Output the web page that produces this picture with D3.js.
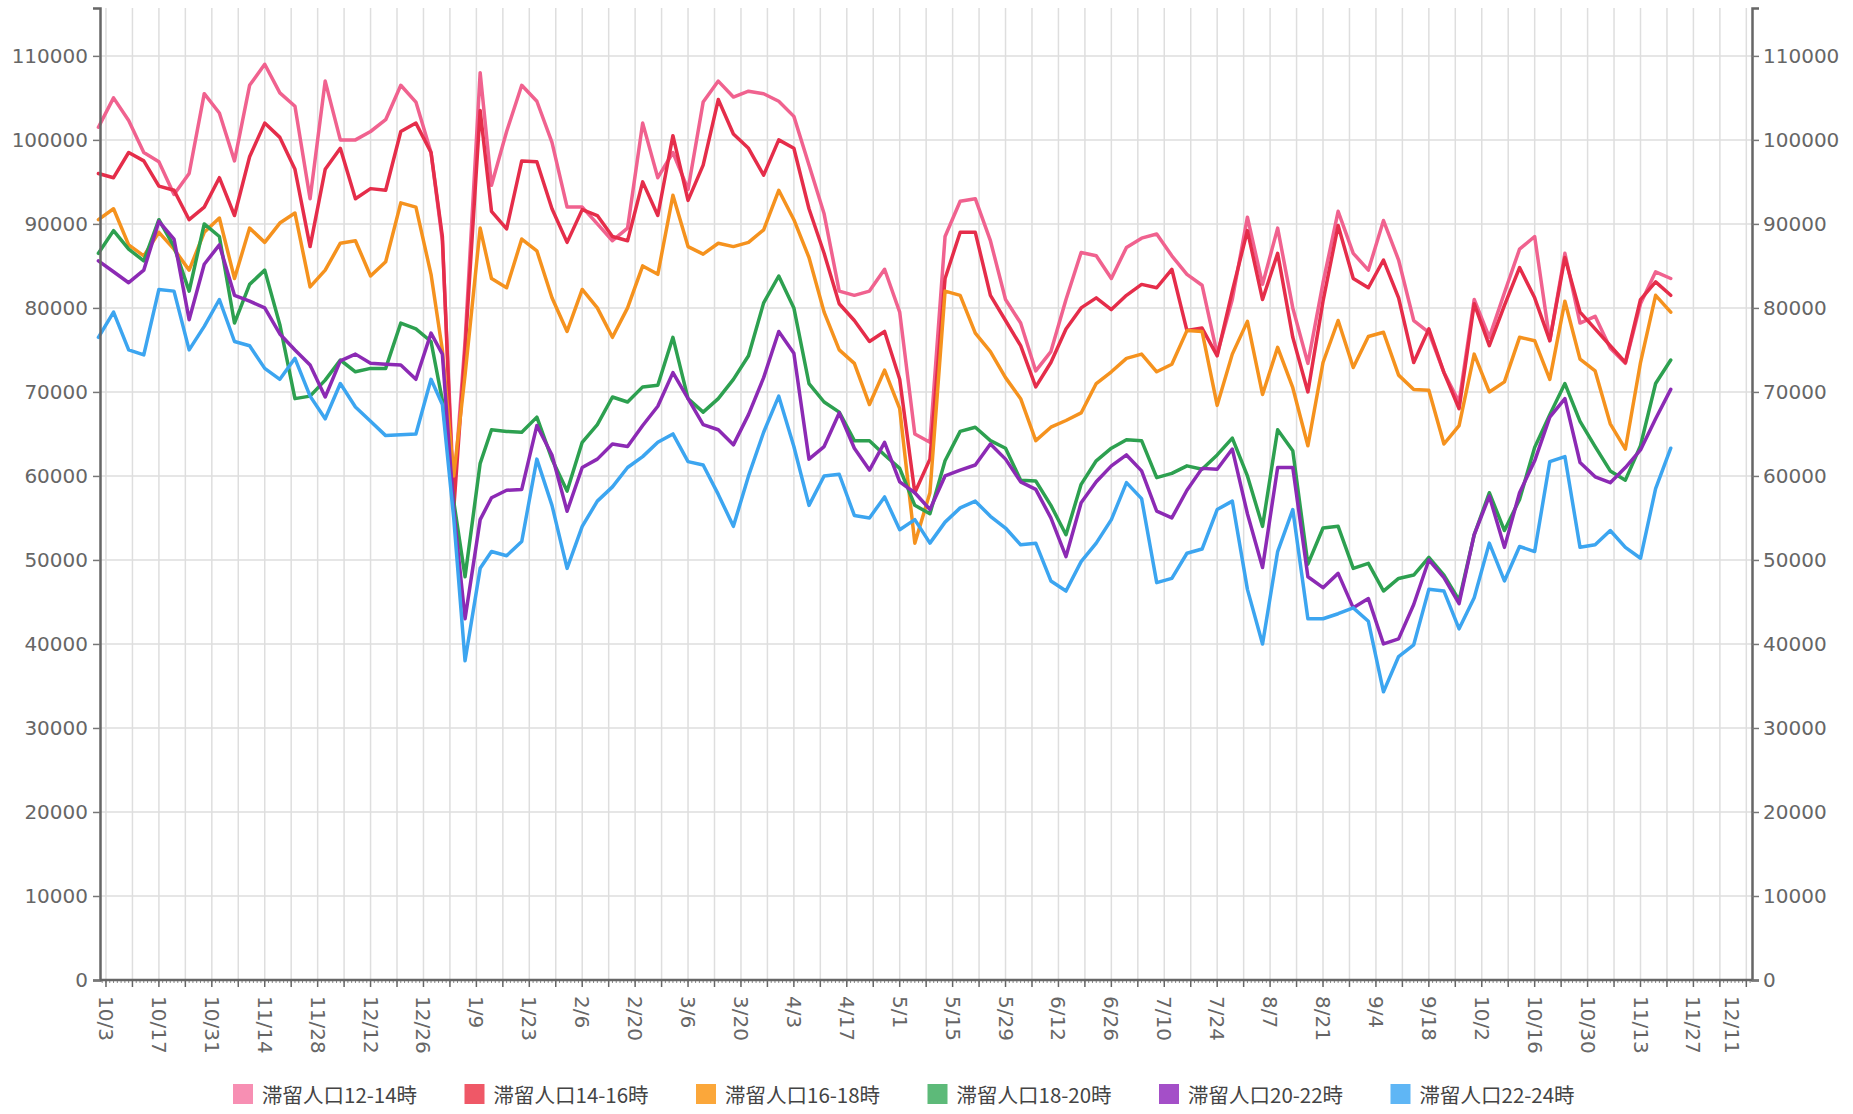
<!DOCTYPE html>
<html>
<head>
<meta charset="utf-8">
<script src="https://cdnjs.cloudflare.com/ajax/libs/d3/7.8.5/d3.min.js"></script>
<style>
  body { margin: 0; background: #fff; }
  svg { display: block; }
</style>
</head>
<body>
<svg></svg>
<script>
// sample dates (roughly every 4 days)
var dates = [
  "2021-10-01","2021-10-05","2021-10-09","2021-10-13","2021-10-17","2021-10-21","2021-10-25","2021-10-29",
  "2021-11-02","2021-11-06","2021-11-10","2021-11-14","2021-11-18","2021-11-22","2021-11-26","2021-11-30",
  "2021-12-04","2021-12-08","2021-12-12","2021-12-16","2021-12-20","2021-12-24","2021-12-28","2021-12-31",
  "2022-01-03","2022-01-06","2022-01-10","2022-01-13","2022-01-17","2022-01-21","2022-01-25","2022-01-29",
  "2022-02-02","2022-02-06","2022-02-10","2022-02-14","2022-02-18","2022-02-22","2022-02-26","2022-03-02",
  "2022-03-06","2022-03-10","2022-03-14","2022-03-18","2022-03-22","2022-03-26","2022-03-30","2022-04-03",
  "2022-04-07","2022-04-11","2022-04-15","2022-04-19","2022-04-23","2022-04-27","2022-05-01","2022-05-05",
  "2022-05-09","2022-05-13","2022-05-17","2022-05-21","2022-05-25","2022-05-29","2022-06-02","2022-06-06",
  "2022-06-10","2022-06-14","2022-06-18","2022-06-22","2022-06-26","2022-06-30","2022-07-04","2022-07-08",
  "2022-07-12","2022-07-16","2022-07-20","2022-07-24","2022-07-28","2022-08-01","2022-08-05","2022-08-09",
  "2022-08-13","2022-08-17","2022-08-21","2022-08-25","2022-08-29","2022-09-02","2022-09-06","2022-09-10",
  "2022-09-14","2022-09-18","2022-09-22","2022-09-26","2022-09-30","2022-10-04","2022-10-08","2022-10-12",
  "2022-10-16","2022-10-20","2022-10-24","2022-10-28","2022-11-01","2022-11-05","2022-11-09","2022-11-13",
  "2022-11-17","2022-11-21"
];

// values in thousands of people
var pop12_14 = [
  101.5,105,102.3,98.5,97.4,93.5,96,105.5,103.2,97.5,106.5,109,105.6,104,93,107,100,100,101,102.4,106.5,104.5,98.5,
  88,58,76,108,94.6,
  101,106.5,104.6,99.7,92,92,90,88,89.5,102,95.5,98.5,94.1,104.5,107,105.1,105.8,105.5,104.6,102.8,
  97,91.2,82,81.5,82,84.6,79.5,65,64,88.5,92.7,93,88,81,78.2,72.5,74.8,81,86.6,86.2,
  83.5,87.2,88.3,88.8,86.2,84,82.7,74.5,81,90.8,82.8,89.5,80,73.4,83,91.5,86.5,84.5,90.4,85.7,
  78.5,77.1,72.3,68.8,81,76.5,81.8,87,88.5,76.1,86.5,78.2,79,75.2,73.4,80.5,84.3,83.5
];
var pop14_16 = [
  96,95.5,98.5,97.5,94.5,94,90.5,92,95.5,91,98,102,100.3,96.5,87.3,96.5,99,93,94.2,94,101,102,98.5,
  88.5,56,75,103.5,91.5,
  89.4,97.5,97.4,91.8,87.8,91.7,91,88.5,88,95,91,100.5,92.8,97,104.8,100.7,99,95.8,100,99,
  91.8,86.5,80.5,78.5,76,77.2,71.5,58,62,83.5,89,89,81.5,78.5,75.5,70.6,73.5,77.5,80,81.2,
  79.8,81.5,82.8,82.4,84.6,77.3,77.6,74.3,82,89.2,81,86.5,76.5,70,80.8,89.8,83.5,82.4,85.7,81.2,
  73.5,77.5,72.3,68,80.5,75.5,80.3,84.8,81.2,76.1,86,79.5,77.5,75.5,73.5,81,83.1,81.5
];
var pop16_18 = [
  90.5,91.8,87.5,86.2,89,87,84.5,89,90.7,83.5,89.5,87.8,90.1,91.3,82.5,84.5,87.7,88,83.8,85.5,92.5,92,84,
  75,60,72,89.5,83.5,
  82.4,88.2,86.8,81.2,77.2,82.2,80,76.5,80,85,84,93.4,87.3,86.4,87.7,87.3,87.8,89.3,94,90.5,
  86,79.5,75,73.4,68.5,72.6,68,52,58,82,81.5,77,74.8,71.7,69.2,64.2,65.8,66.6,67.5,71,
  72.4,74,74.5,72.4,73.3,77.3,77.2,68.4,74.5,78.4,69.7,75.3,70.5,63.6,73.5,78.5,72.9,76.6,77.1,72,
  70.3,70.2,63.8,66,74.5,70,71.2,76.5,76.1,71.5,80.8,73.9,72.5,66.2,63.2,73.5,81.5,79.5
];
var pop18_20 = [
  86.5,89.2,87,85.6,90.5,87.3,82,90,88.5,78.2,82.8,84.5,78,69.2,69.5,71.4,73.8,72.4,72.8,72.8,78.2,77.5,76,
  69,57,48,61.5,65.5,
  65.3,65.2,67,62,58.2,64,66.1,69.4,68.8,70.6,70.8,76.5,69.2,67.6,69.2,71.5,74.3,80.6,83.8,80,
  71,68.8,67.6,64.2,64.2,62.5,60.9,56.5,55.5,61.8,65.3,65.8,64.2,63.3,59.5,59.4,56.5,53,59,61.8,
  63.3,64.3,64.2,59.8,60.3,61.2,60.8,62.5,64.5,60,54,65.5,63,49.5,53.8,54,49,49.6,46.3,47.8,
  48.2,50.3,48.2,45.2,53,58,53.5,57.2,63.4,67.3,71,66.5,63.5,60.6,59.5,63.6,71,73.8
];
var pop20_22 = [
  85.6,84.3,83,84.5,90.3,88.2,78.6,85.2,87.5,81.5,80.8,80,76.9,75,73.2,69.4,73.7,74.5,73.4,73.3,73.2,71.5,77,
  74.5,56,43,54.8,57.4,
  58.3,58.4,66,62.5,55.8,61,62,63.8,63.5,66,68.3,72.3,69.2,66.1,65.5,63.7,67.3,71.7,77.2,74.6,
  62,63.5,67.5,63.3,60.7,64,59.3,58,56,60,60.7,61.3,63.8,62,59.3,58.4,55,50.4,56.8,59.3,
  61.2,62.5,60.6,55.8,55,58.3,60.9,60.8,63.2,55.5,49.1,61,61,48,46.7,48.4,44.3,45.4,40,40.6,
  44.7,50,47.9,44.8,53,57.6,51.5,58,61.8,67,69.2,61.6,59.9,59.2,61,63.1,66.8,70.3
];
var pop22_24 = [
  76.5,79.5,75,74.4,82.2,82,75,77.8,81,76,75.5,72.8,71.5,74,69.5,66.8,71,68.2,66.5,64.8,64.9,65,71.5,
  68.5,55,38,49,51,
  50.5,52.2,62,56.5,49,54,57,58.7,61,62.3,64,65,61.7,61.3,57.8,54,60,65.2,69.5,63.5,
  56.5,60,60.2,55.3,55,57.5,53.6,54.8,52,54.5,56.2,57,55.2,53.8,51.8,52,47.5,46.3,49.8,52,
  54.8,59.2,57.3,47.3,47.8,50.8,51.3,56,57,46.5,40,51,56,43,43,43.6,44.3,42.7,34.3,38.5,
  39.9,46.5,46.3,41.8,45.5,52,47.5,51.6,51,61.7,62.3,51.5,51.8,53.5,51.5,50.2,58.5,63.3
];

var seriesNames = ["滞留人口12-14時", "滞留人口14-16時", "滞留人口16-18時",
                   "滞留人口18-20時", "滞留人口20-22時", "滞留人口22-24時"];
var seriesValues = [pop12_14, pop14_16, pop16_18, pop18_20, pop20_22, pop22_24];
var lineColors = ["#f0628f", "#e52d4a", "#f5921e", "#2da050", "#8c2ab4", "#3ca5f0"];
var legendColors = ["#f78fb3", "#ef5867", "#fba73a", "#5dba79", "#a44fc8", "#5fb6f5"];
var yTicks = [0, 10000, 20000, 30000, 40000, 50000, 60000, 70000, 80000, 90000, 100000, 110000];

(function() {

  var width = 1853,
      height = 1114;

  var margin = {
    top: 8,
    right: 101,
    bottom: 134,
    left: 100
  },
      chartWidth = width - margin.left - margin.right,
      chartHeight = height - margin.top - margin.bottom;

  var parseDate = d3.timeParse("%Y-%m-%d");
  var formatTick = d3.timeFormat("%-m/%-d");
  var font = "'DejaVu Sans', Verdana, sans-serif";

  var svg = d3.select("svg")
      .attr("width", width)
      .attr("height", height)
      .style("background", "#fff");

  var chart = svg.append("g")
      .attr("transform", "translate(" + margin.left + "," + margin.top + ")");

  var xScale = d3.scaleTime()
      .domain([new Date(2021, 9, 1, 10), new Date(2022, 11, 12, 12)])
      .range([0, chartWidth]);

  var yScale = d3.scaleLinear()
      .domain([0, 115700])
      .range([chartHeight, 0]);

  var weeks = d3.timeWeek.range(new Date(2021, 9, 3), new Date(2022, 11, 12));
  var days = d3.timeDay.range(new Date(2021, 9, 2), new Date(2022, 11, 13));

  // grid
  chart.append("g")
      .selectAll("line")
      .data(yTicks)
    .enter().append("line")
      .attr("x1", 0)
      .attr("x2", chartWidth)
      .attr("y1", function(d) { return yScale(d); })
      .attr("y2", function(d) { return yScale(d); })
      .attr("stroke", "#dedede")
      .attr("stroke-width", 1.5);

  chart.append("g")
      .selectAll("line")
      .data(weeks)
    .enter().append("line")
      .attr("x1", function(d) { return xScale(d); })
      .attr("x2", function(d) { return xScale(d); })
      .attr("y1", 0)
      .attr("y2", chartHeight)
      .attr("stroke", "#dedede")
      .attr("stroke-width", 1.5);

  // lines
  var lineGenerator = d3.line()
      .x(function(d) { return xScale(d.date); })
      .y(function(d) { return yScale(d.value); });

  seriesValues.forEach(function(values, i) {
    var points = values.map(function(v, j) {
      return {date: parseDate(dates[j]), value: v * 1000};
    });
    chart.append("path")
        .datum(points)
        .attr("d", lineGenerator)
        .attr("fill", "none")
        .attr("stroke", lineColors[i])
        .attr("stroke-width", 3.5)
        .attr("stroke-linejoin", "round")
        .attr("stroke-linecap", "round");
  });

  // y axes, left and right (plain numbers, no thousands separator)
  chart.append("g")
      .call(d3.axisLeft(yScale).tickValues(yTicks).tickFormat(d3.format("d")).tickSize(7).tickPadding(5))
      .call(styleAxis);

  chart.append("g")
      .attr("transform", "translate(" + chartWidth + ",0)")
      .call(d3.axisRight(yScale).tickValues(yTicks).tickFormat(d3.format("d")).tickSize(7).tickPadding(4))
      .call(styleAxis);

  // x axis: small daily ticks, weekly ticks, labels every 2 weeks
  var xAxis = chart.append("g")
      .attr("transform", "translate(0," + chartHeight + ")");

  xAxis.selectAll(".day")
      .data(days)
    .enter().append("line")
      .attr("class", "day")
      .attr("x1", function(d) { return xScale(d); })
      .attr("x2", function(d) { return xScale(d); })
      .attr("y1", 0)
      .attr("y2", 3)
      .attr("stroke", "#888")
      .attr("stroke-width", 1);

  xAxis.selectAll(".week")
      .data(weeks)
    .enter().append("line")
      .attr("class", "week")
      .attr("x1", function(d) { return xScale(d); })
      .attr("x2", function(d) { return xScale(d); })
      .attr("y1", 0)
      .attr("y2", 7)
      .attr("stroke", "#666")
      .attr("stroke-width", 1.5);

  xAxis.append("line")
      .attr("x1", 0)
      .attr("x2", chartWidth)
      .attr("stroke", "#666")
      .attr("stroke-width", 2.5);

  xAxis.selectAll("text")
      .data(weeks.filter(function(d, i) { return i % 2 === 0; }))
    .enter().append("text")
      .attr("transform", function(d) {
        var x = Math.min(xScale(d), chartWidth - 20);
        return "translate(" + x + ",16) rotate(90)";
      })
      .attr("dominant-baseline", "central")
      .attr("text-anchor", "start")
      .attr("font-family", font)
      .attr("font-size", 20)
      .attr("fill", "#666")
      .text(formatTick);

  // legend
  var legend = svg.append("g")
      .attr("transform", "translate(233,1084)");

  var item = legend.selectAll("g")
      .data(seriesNames)
    .enter().append("g")
      .attr("transform", function(d, i) { return "translate(" + (i * 231.5) + ",0)"; });

  item.append("rect")
      .attr("width", 20)
      .attr("height", 20)
      .attr("fill", function(d, i) { return legendColors[i]; });

  item.append("text")
      .attr("x", 29)
      .attr("y", 10)
      .attr("dominant-baseline", "central")
      .attr("font-family", "'Noto Sans CJK JP', 'Noto Sans', sans-serif")
      .attr("font-size", 20.5)
      .attr("fill", "#444")
      .text(function(d) { return d; });

  function styleAxis(g) {
    g.select(".domain")
        .attr("stroke", "#666")
        .attr("stroke-width", 2.5);
    g.selectAll(".tick line")
        .attr("stroke", "#777")
        .attr("stroke-width", 1.5);
    g.selectAll(".tick text")
        .attr("font-family", font)
        .attr("font-size", 20)
        .attr("fill", "#666");
  }

})()
</script>
</body>
</html>
